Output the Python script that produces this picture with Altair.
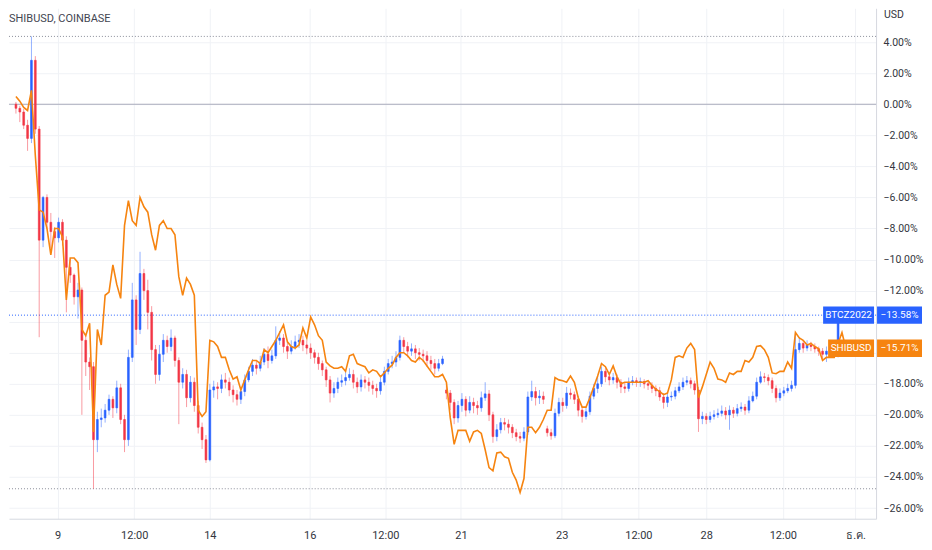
import altair as alt
import pandas as pd
import numpy as np

# ---------------- data (percent change) ----------------
close = [
    -0.26, -0.5, -1.35, -2.2, 2.83, -1.6, -8.75, -6.0, -7.6, -8.2,
    -8.6, -7.6, -8.75, -10.5, -11.0, -12.4, -11.96, -15.2, -16.6, -16.9,
    -21.6, -20.3, -20.2, -19.7, -19.0, -19.55, -18.26, -20.3, -21.6, -16.3,
    -12.6, -14.5, -10.9, -12.0, -13.4, -15.8, -17.4, -16.1, -15.2, -15.6,
    -15.05, -16.5, -17.9, -17.4, -18.9, -17.9, -19.4, -20.8, -21.6, -22.9,
    -18.4, -18.2, -18.3, -17.75, -17.9, -18.4, -18.7, -19.0, -18.5, -17.75,
    -17.2, -16.8, -17.0, -16.6, -16.1, -16.5, -16.2, -15.2, -15.05, -15.6,
    -15.9, -15.6, -15.3, -15.2, -15.5, -15.7, -16.0, -16.3, -16.7, -17.1,
    -17.75, -18.6, -18.3, -17.9, -17.8, -17.6, -17.4, -17.9, -18.2, -17.75,
    -17.9, -18.1, -18.3, -18.45, -17.9, -17.2, -16.7, -16.6, -16.3, -15.2,
    -15.6, -15.9, -15.75, -16.0, -16.1, -16.2, -16.5, -16.7, -17.0, -16.7,
    -16.4, -18.6, -19.2, -20.2, -19.4, -19.0, -19.7, -19.2, -19.4, -19.55,
    -18.9, -18.65, -20.0, -21.4, -20.96, -20.5, -20.6, -20.8, -21.15, -21.4,
    -21.5, -21.1, -18.85, -18.5, -18.9, -18.8, -19.0, -21.15, -21.35, -19.9,
    -19.2, -19.4, -18.6, -18.7, -19.0, -19.7, -20.1, -19.8, -18.8, -18.3,
    -18.0, -17.2, -17.55, -17.75, -17.6, -17.9, -18.2, -18.3, -17.9, -17.8,
    -17.9, -17.85, -18.0, -18.1, -18.3, -18.45, -18.85, -19.2, -18.85, -18.8,
    -18.45, -18.2, -17.9, -17.8, -18.0, -18.4, -20.25, -20.1, -20.3, -20.1,
    -20.0, -19.9, -19.75, -20.0, -19.7, -19.9, -19.6, -19.5, -19.7, -19.1,
    -18.8, -17.9, -17.55, -17.6, -17.8, -18.3, -18.9, -18.6, -18.45, -18.3,
    -18.1, -15.8, -15.4, -15.7, -15.5, -15.6, -15.75, -15.9, -16.1, -15.9,
    -15.75, -15.6, -13.58,
]
high = [
    0.15, -0.1, -0.3, -1.0, 4.37, 3.1, -1.4, -5.9, -5.8, -7.0,
    -7.9, -7.3, -7.4, -8.5, -10.0, -10.9, -11.5, -11.8, -14.8, -16.3,
    -16.6, -19.8, -19.6, -19.3, -18.7, -18.8, -17.8, -18.0, -20.0, -15.8,
    -11.5, -12.3, -9.5, -10.6, -11.3, -13.0, -15.5, -15.5, -14.8, -14.9,
    -14.5, -14.9, -16.3, -17.0, -17.1, -17.5, -17.6, -19.1, -20.5, -21.3,
    -18.0, -17.8, -17.9, -17.4, -17.3, -17.6, -18.1, -18.4, -18.2, -17.4,
    -16.9, -16.4, -16.5, -16.2, -15.7, -15.6, -15.8, -14.3, -14.6, -14.8,
    -15.3, -15.2, -14.9, -14.8, -14.9, -15.2, -15.4, -15.8, -16.0, -16.5,
    -16.9, -17.5, -17.9, -17.6, -17.4, -17.2, -17.0, -17.1, -17.6, -17.4,
    -17.5, -17.6, -17.8, -18.0, -17.6, -16.9, -16.4, -16.2, -15.9, -14.9,
    -15.0, -15.3, -15.4, -15.5, -15.7, -15.8, -15.9, -16.2, -16.4, -16.4,
    -16.2, -18.1, -18.4, -19.0, -19.1, -18.6, -18.8, -18.8, -18.9, -19.1,
    -18.5, -17.9, -18.4, -19.8, -20.6, -20.2, -20.2, -20.3, -20.6, -20.9,
    -21.1, -20.8, -18.5, -17.8, -18.2, -18.4, -18.5, -20.7, -20.9, -19.6,
    -18.9, -18.9, -18.2, -18.3, -18.5, -18.8, -19.5, -19.5, -18.5, -18.0,
    -17.5, -16.9, -17.0, -17.3, -17.3, -17.4, -17.7, -17.9, -17.6, -17.5,
    -17.6, -17.6, -17.7, -17.8, -17.9, -18.1, -18.2, -18.6, -18.6, -18.5,
    -18.2, -17.9, -17.6, -17.5, -17.6, -17.8, -18.2, -19.8, -19.9, -19.8,
    -19.7, -19.6, -19.4, -19.5, -19.4, -19.5, -19.3, -19.2, -19.3, -18.8,
    -18.5, -17.6, -17.2, -17.3, -17.4, -17.6, -18.1, -18.3, -18.2, -18.0,
    -17.8, -14.7, -15.0, -15.2, -15.2, -15.3, -15.4, -15.6, -15.7, -15.6,
    -15.5, -15.3, -13.58,
]
low = [
    -0.6, -1.15, -1.6, -3.0, -2.5, -1.9, -15.0, -9.2, -8.0, -9.3,
    -9.9, -8.9, -9.1, -13.4, -11.5, -12.9, -13.8, -20.0, -17.5, -18.4,
    -24.76, -22.4, -20.8, -20.5, -20.0, -20.2, -19.9, -20.6, -22.4, -22.0,
    -16.6, -15.5, -14.8, -12.6, -14.5, -16.5, -18.0, -17.8, -16.6, -16.0,
    -15.9, -16.9, -20.6, -18.3, -19.5, -19.2, -19.8, -21.2, -22.2, -23.1,
    -23.0, -18.9, -19.0, -18.6, -18.3, -18.8, -19.2, -19.4, -19.3, -18.8,
    -17.9, -17.5, -17.4, -17.2, -16.8, -17.0, -16.7, -16.4, -15.5, -16.0,
    -16.4, -16.1, -15.8, -15.7, -15.9, -16.1, -16.4, -16.7, -17.1, -17.5,
    -18.2, -19.2, -18.9, -18.6, -18.2, -18.1, -17.8, -18.3, -18.6, -18.5,
    -18.3, -18.5, -18.7, -18.9, -18.7, -18.1, -17.4, -17.0, -16.9, -16.5,
    -16.0, -16.3, -16.2, -16.4, -16.5, -16.6, -16.9, -17.1, -17.4, -17.2,
    -16.8, -19.0, -19.7, -20.6, -20.5, -19.8, -20.1, -19.9, -19.9, -20.0,
    -19.8, -19.1, -20.4, -21.8, -21.7, -21.2, -21.0, -21.2, -21.5, -21.7,
    -21.8, -21.7, -21.3, -19.1, -19.4, -19.3, -19.3, -21.4, -21.6, -21.5,
    -20.1, -19.8, -19.6, -19.0, -19.3, -20.1, -20.5, -20.3, -20.0, -19.0,
    -18.6, -18.2, -17.9, -18.1, -18.0, -18.3, -18.6, -18.6, -18.5, -18.1,
    -18.2, -18.2, -18.3, -18.4, -18.6, -18.8, -19.1, -19.6, -19.5, -19.1,
    -19.0, -18.6, -18.4, -18.1, -18.3, -18.7, -21.1, -20.6, -20.6, -20.5,
    -20.3, -20.2, -20.1, -20.3, -20.96, -20.2, -20.1, -19.8, -20.0, -19.9,
    -19.2, -19.0, -18.0, -17.9, -18.1, -18.6, -19.2, -19.1, -18.8, -18.6,
    -18.5, -18.3, -16.0, -16.0, -15.9, -15.9, -16.0, -16.2, -16.4, -16.6,
    -16.1, -15.9, -16.3,
]
# candles that opened away from the previous close (session gaps)
gap_open = {111: -18.4, 137: -20.9}

orange = [
    0.5, 0.2, -0.2, -0.4, 0.9, -3.3, -6.8, -6.95, -8.0, -9.7,
    -8.0, -8.0, -8.55, -12.6, -9.9, -9.9, -10.2, -14.5, -14.9, -14.1,
    -21.1, -14.5, -15.5, -12.3, -12.1, -10.35, -11.6, -12.5, -7.8, -6.2,
    -7.5, -7.8, -6.0, -6.6, -6.95, -8.4, -9.4, -7.8, -7.5, -8.0,
    -8.0, -8.4, -11.1, -12.3, -11.2, -11.6, -12.3, -19.7, -20.1, -19.8,
    -15.2, -15.3, -15.6, -16.3, -16.3, -17.1, -17.7, -17.55, -18.4, -17.75,
    -17.1, -16.5, -16.5, -16.7, -15.8, -16.0, -15.6, -15.2, -14.7, -14.2,
    -15.3, -15.6, -15.7, -15.5, -14.4, -15.05, -13.7, -14.2, -14.9, -15.2,
    -16.6, -16.85, -17.0, -17.0, -16.9, -17.2, -16.2, -16.1, -16.7, -16.8,
    -16.9, -17.3, -17.1, -17.2, -17.55, -17.3, -17.0, -16.8, -16.3, -16.0,
    -16.0, -16.2, -16.5, -16.6, -16.3, -16.5, -16.85, -17.2, -17.55, -17.55,
    -17.4, -17.9, -20.2, -21.9, -21.0, -21.0, -21.0, -21.7, -21.1, -21.0,
    -21.2, -22.25, -23.4, -23.6, -22.45, -22.4, -22.7, -22.8, -23.7, -24.2,
    -25.0, -24.1, -20.8, -20.8, -21.15, -20.8, -20.3, -19.7, -19.7, -17.6,
    -17.75, -17.8, -17.9, -17.5, -17.9, -18.9, -19.5, -19.5, -18.9, -18.2,
    -17.5, -16.7, -16.9, -17.4, -16.85, -17.55, -18.0, -17.9, -17.9, -17.9,
    -17.9, -17.9, -17.9, -17.8, -18.1, -18.35, -18.5, -18.7, -18.6, -17.75,
    -16.3, -16.2, -16.3, -15.7, -15.4, -15.8, -18.9, -18.2, -17.4, -16.6,
    -17.0, -17.7, -17.75, -17.9, -17.3, -17.4, -17.2, -17.2, -16.5, -16.6,
    -16.3, -15.6, -15.55, -15.8, -16.3, -17.3, -17.35, -17.2, -17.2, -16.6,
    -17.0, -14.7, -15.05, -15.2, -15.5, -15.4, -15.6, -15.75, -16.5, -16.3,
    -16.3, -16.3, -15.4, -14.7, -15.71,
]

tick_pos = [10.75, 30.5, 50, 75.75, 95.25, 114.75, 140.75, 160.5, 178, 197.75, 216.5]
tick_lab = ["9", "12:00", "14", "16", "12:00", "21", "23", "12:00", "28", "12:00", "ธ.ค."]
y_ticks = list(range(-26, 5, 2))
covered_ticks = [-14, -16]   # price-axis labels hidden behind the two value badges

main_name, main_last = "BTCZ2022", -13.58
cmp_name, cmp_last = "SHIBUSD", -15.71
title_text = "SHIBUSD, COINBASE"

# ---------------- tables ----------------
n = len(close)
opens = [0.0] + close[:-1]
for k, v in gap_open.items():
    opens[k] = v
cdf = pd.DataFrame({"i": range(n), "open": opens, "close": close, "high": high, "low": low})
cdf["dir"] = np.where(cdf["close"] >= cdf["open"], "up", "down")
odf = pd.DataFrame({"i": range(len(orange)), "v": orange})
ext = pd.DataFrame({"lvl": [max(high), min(low)]})

# ---------------- style ----------------
BLUE = "#2962FF"
RED = "#F23645"
ORANGE = "#F68410"
FONT = "Liberation Sans Narrow, Roboto, sans-serif"
TXT = "#333640"
W, H = 868, 511

xs = alt.Scale(domain=[-0.5, 220.5], nice=False, zero=False)
ys = alt.Scale(domain=[-26.69, 6.18], nice=False, zero=False)

labels_js = "[" + ",".join("'" + l + "'" for l in tick_lab) + "]"
pos_js = "[" + ",".join(str(p) for p in tick_pos) + "]"
hide_js = "[" + ",".join(str(v) for v in covered_ticks) + "]"
xaxis = alt.Axis(values=tick_pos, labelExpr=f"{labels_js}[indexof({pos_js}, datum.value)]",
                 title=None, ticks=False, grid=True, gridColor="#F0F2F6", domainColor="#D6D9E0",
                 labelFont=FONT, labelFontSize=11, labelColor=TXT, labelPadding=11,
                 labelFlush=False, labelOverlap=False)
yaxis = alt.Axis(values=y_ticks,
                 labelExpr=f"indexof({hide_js}, datum.value) >= 0 ? '' : format(datum.value, '.2f') + '%'",
                 orient="right", title=None, ticks=False, grid=True, gridColor="#F0F2F6",
                 domainColor="#D6D9E0", labelFont=FONT, labelFontSize=10.5, labelColor=TXT,
                 labelPadding=7, labelOverlap=False, labelFlush=False)

X = alt.X("i:Q", scale=xs, axis=xaxis)
col = alt.Scale(domain=["up", "down"], range=[BLUE, RED])

zero_line = alt.Chart(pd.DataFrame({"z": [0.0]})).mark_rule(color="#A9ACBC", strokeWidth=1).encode(
    y=alt.Y("z:Q", scale=ys, axis=yaxis))
ext_lines = alt.Chart(ext).mark_rule(color="#8A8D99", strokeWidth=1, strokeDash=[1, 2]).encode(
    y=alt.Y("lvl:Q", scale=ys, axis=yaxis))
last_line = alt.Chart(pd.DataFrame({"l": [main_last]})).mark_rule(
    color=BLUE, strokeWidth=1, strokeDash=[1, 2]).encode(y=alt.Y("l:Q", scale=ys, axis=yaxis))

wicks = alt.Chart(cdf).mark_rule(strokeWidth=1, opacity=0.5).encode(
    x=X,
    y=alt.Y("low:Q", scale=ys, axis=yaxis),
    y2="high:Q",
    color=alt.Color("dir:N", scale=col, legend=None),
)
bodies = alt.Chart(cdf).mark_bar(size=1.8, strokeWidth=0.6).encode(
    x=X,
    y=alt.Y("open:Q", scale=ys, axis=yaxis),
    y2="close:Q",
    color=alt.Color("dir:N", scale=col, legend=None),
    stroke=alt.Stroke("dir:N", scale=col, legend=None),
)
line = alt.Chart(odf).mark_line(color=ORANGE, strokeWidth=1.6).encode(
    x=X, y=alt.Y("v:Q", scale=ys, axis=yaxis))


def badge(name, val, color, left):
    d = pd.DataFrame({"name": [name], "val": [val],
                      "lab": [f"{val:.2f}%".replace("-", "\u2212")]})
    base = alt.Chart(d).transform_calculate(top="datum.val + 0.56", bot="datum.val - 0.56")
    r1 = base.mark_rect(color=color).encode(
        x=alt.value(left), x2=alt.value(W - 2),
        y=alt.Y("top:Q", scale=ys, axis=yaxis), y2="bot:Q")
    r2 = base.mark_rect(color=color).encode(
        x=alt.value(W + 1), x2=alt.value(W + 46),
        y=alt.Y("top:Q", scale=ys, axis=yaxis), y2="bot:Q")
    t1 = base.mark_text(color="white", font=FONT, fontSize=10, align="center", baseline="middle").encode(
        x=alt.value((left + W - 2) / 2), y=alt.Y("val:Q", scale=ys, axis=yaxis), text="name:N")
    t2 = base.mark_text(color="white", font=FONT, fontSize=10, align="center", baseline="middle").encode(
        x=alt.value(W + 23.5), y=alt.Y("val:Q", scale=ys, axis=yaxis), text="lab:N")
    return [r1, r2, t1, t2]


title = alt.Chart(pd.DataFrame({"t": [title_text]})).mark_text(
    align="left", baseline="middle", font=FONT, fontSize=11, color="#434651").encode(
    x=alt.value(0), y=alt.value(11), text="t:N")
usd = alt.Chart(pd.DataFrame({"t": ["USD"]})).mark_text(
    align="left", baseline="middle", font=FONT, fontSize=10.5, color=TXT).encode(
    x=alt.value(W + 8), y=alt.value(7), text="t:N")

layers = [zero_line, ext_lines, last_line, wicks, bodies, line]
layers += badge(main_name, main_last, BLUE, W - 53)
layers += badge(cmp_name, cmp_last, ORANGE, W - 48)
layers += [title, usd]

chart = alt.layer(*layers).properties(width=W, height=H, padding=0, background="white").configure_view(
    stroke=None)

chart.save("out.html", embed_options={"renderer": "svg", "actions": False})
